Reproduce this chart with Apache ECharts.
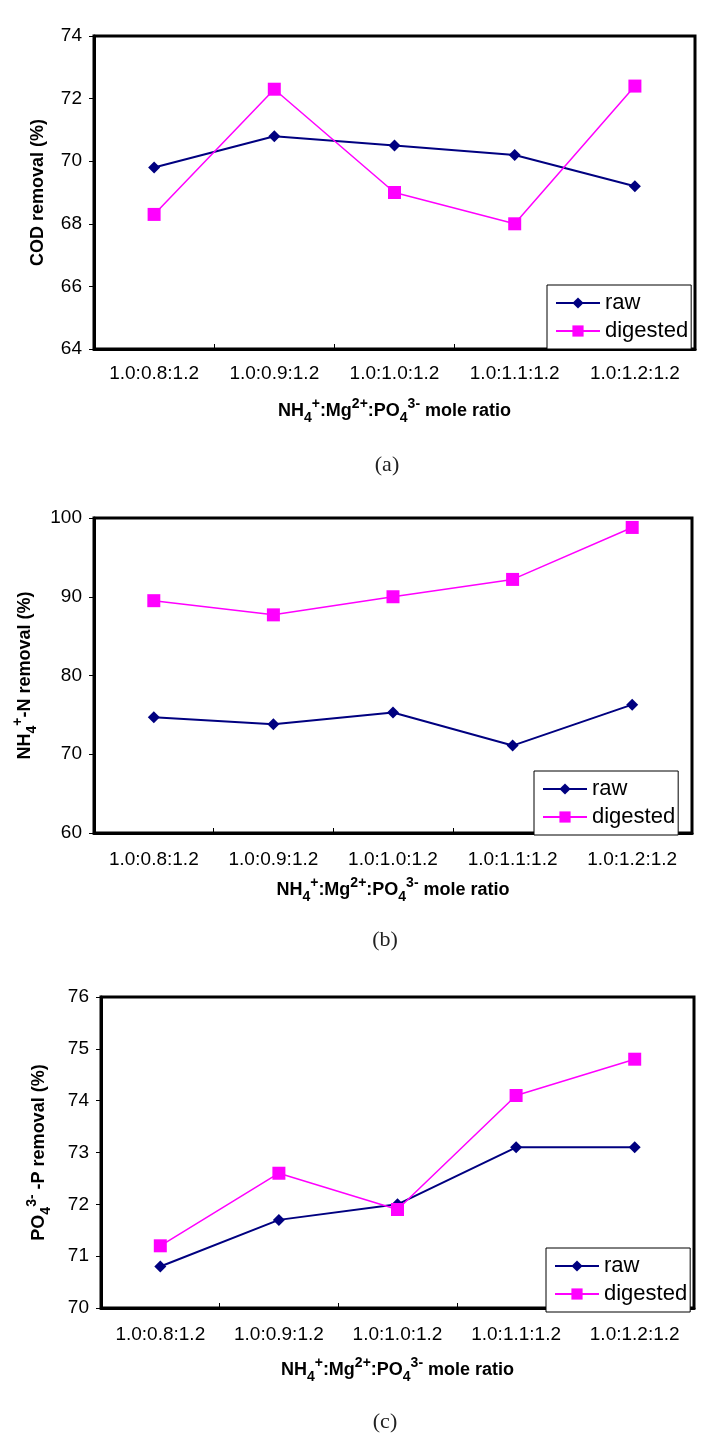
<!DOCTYPE html>
<html><head><meta charset="utf-8">
<script src="https://cdn.jsdelivr.net/npm/echarts@6/dist/echarts.min.js"></script>
<style>html,body{margin:0;padding:0;background:#fff}#c{width:727px;height:1439px}</style>
</head><body><div id="c"></div>
<script>
// ---- data ----
const categories = ['1.0:0.8:1.2', '1.0:0.9:1.2', '1.0:1.0:1.2', '1.0:1.1:1.2', '1.0:1.2:1.2'];
const seriesNames = ['raw', 'digested'];
const codRaw = [69.8, 70.8, 70.5, 70.2, 69.2];
const codDigested = [68.3, 72.3, 69.0, 68.0, 72.4];
const nRaw = [74.7, 73.8, 75.3, 71.1, 76.3];
const nDigested = [89.5, 87.7, 90.0, 92.2, 98.8];
const pRaw = [70.8, 71.7, 72.0, 73.1, 73.1];
const pDigested = [71.2, 72.6, 71.9, 74.1, 74.8];
// y tick ranges: [min, max, interval]
const codTicks = [64, 74, 2];
const nTicks = [60, 100, 10];
const pTicks = [70, 76, 1];
const captions = ['(a)', '(b)', '(c)'];

// ---- styles ----
const FF = 'Liberation Sans, Arial, sans-serif';
const rich = {
  m: {fontSize: 18, fontWeight: 'bold', fontFamily: FF, color: '#000', lineHeight: 28},
  sp: {fontSize: 14, fontWeight: 'bold', fontFamily: FF, color: '#000', lineHeight: 14, verticalAlign: 'top'},
  sb: {fontSize: 14, fontWeight: 'bold', fontFamily: FF, color: '#000', lineHeight: 20, verticalAlign: 'bottom'}
};
const xName = '{m|NH}{sb|4}{sp|+}{m|:Mg}{sp|2+}{m|:PO}{sb|4}{sp|3-}{m| mole ratio}';
const yNames = ['{m|COD removal (%)}', '{m|NH}{sb|4}{sp|+}{m|-N removal (%)}', '{m|PO}{sb|4}{sp|3-}{m| -P removal (%)}'];

const grids = [
  {left: 94, top: 36, width: 601, height: 313},
  {left: 94, top: 518, width: 598, height: 315},
  {left: 101, top: 997, width: 593, height: 311}
];
const xGaps = [48, 43, 48];
const yGaps = [42, 42, 48];
const xLabelMargins = [15, 17, 17];
const legendPos = [
  {left: 547, top: 285},
  {left: 534, top: 771},
  {left: 546, top: 1248}
];
const captionPos = [[387, 465], [385, 940], [385, 1422]];
const ticks = [codTicks, nTicks, pTicks];
const data = [[codRaw, codDigested], [nRaw, nDigested], [pRaw, pDigested]];

const option = {
  animation: false,
  backgroundColor: '#fff',
  grid: grids.map(g => Object.assign({show: true, borderColor: '#000', borderWidth: 3, backgroundColor: 'transparent'}, g)),
  xAxis: grids.map((g, i) => ({
    type: 'category', gridIndex: i, data: categories, boundaryGap: true,
    axisLine: {lineStyle: {color: '#000', width: 3}},
    axisTick: {show: true, inside: true, length: 5, lineStyle: {color: '#000', width: 1}},
    axisLabel: {color: '#000', fontSize: 19, fontFamily: FF, margin: xLabelMargins[i], interval: 0},
    splitLine: {show: false},
    name: xName, nameLocation: 'middle', nameGap: xGaps[i],
    nameTextStyle: {rich: rich}
  })),
  yAxis: grids.map((g, i) => ({
    type: 'value', gridIndex: i, min: ticks[i][0], max: ticks[i][1], interval: ticks[i][2],
    axisLine: {show: true, lineStyle: {color: '#000', width: 3}},
    axisTick: {show: true, inside: false, length: 5, lineStyle: {color: '#000', width: 1}},
    axisLabel: {color: '#000', fontSize: 19, fontFamily: FF, margin: 12},
    splitLine: {show: false},
    name: yNames[i], nameLocation: 'middle', nameGap: yGaps[i],
    nameTextStyle: {rich: rich}
  })),
  legend: legendPos.map(p => ({
    orient: 'vertical', left: p.left, top: p.top,
    padding: [7, 3, 7, 8], itemGap: 6, itemWidth: 44, itemHeight: 14,
    borderColor: '#000', borderWidth: 1, backgroundColor: '#fff',
    textStyle: {fontSize: 22, color: '#000', fontFamily: FF, lineHeight: 20},
    data: seriesNames
  })),
  series: [],
  graphic: captions.map((c, i) => ({
    type: 'text', x: captionPos[i][0], y: captionPos[i][1],
    style: {text: c, fontSize: 22, fontFamily: 'Liberation Serif, serif', fill: '#222', align: 'center', verticalAlign: 'middle'}
  }))
};
data.forEach((pair, i) => {
  option.series.push({
    name: seriesNames[0], type: 'line', xAxisIndex: i, yAxisIndex: i, data: pair[0],
    symbol: 'diamond', symbolSize: 12,
    itemStyle: {color: '#000080'}, lineStyle: {color: '#000080', width: 2}
  });
  option.series.push({
    name: seriesNames[1], type: 'line', xAxisIndex: i, yAxisIndex: i, data: pair[1],
    symbol: 'rect', symbolSize: 13,
    itemStyle: {color: '#FF00FF'}, lineStyle: {color: '#FF00FF', width: 1.5}
  });
});
const chart = echarts.init(document.getElementById('c'), null, {renderer: 'canvas'});
chart.setOption(option);
</script>
</body></html>
